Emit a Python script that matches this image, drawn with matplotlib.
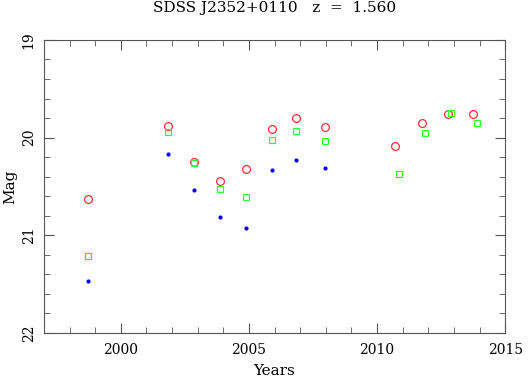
import matplotlib
matplotlib.use("Agg")
import matplotlib.pyplot as plt
from matplotlib.ticker import MultipleLocator

# light curve of SDSS J2352+0110
red_years = [1998.72, 2001.86, 2002.86, 2003.88, 2004.90, 2005.90, 2006.85, 2007.95,
             2010.70, 2011.74, 2012.75, 2013.76]
red_mag = [20.63, 19.88, 20.25, 20.44, 20.32, 19.91, 19.80, 19.89,
           20.09, 19.85, 19.76, 19.76]

green_years = [1998.72, 2001.86, 2002.86, 2003.88, 2004.90, 2005.90, 2006.85, 2007.95,
               2010.86, 2011.88, 2012.89, 2013.90]
green_mag = [21.21, 19.94, 20.26, 20.53, 20.61, 20.02, 19.93, 20.03,
             20.37, 19.95, 19.75, 19.85]

blue_years = [1998.72, 2001.86, 2002.86, 2003.88, 2004.90, 2005.90, 2006.85, 2007.95]
blue_mag = [21.47, 20.17, 20.54, 20.81, 20.93, 20.33, 20.23, 20.31]

plt.rcParams["font.family"] = ["DejaVu Serif"]

fig = plt.figure(figsize=(5.29, 3.84), dpi=100)
ax = fig.add_axes([0.083, 0.133, 0.872, 0.763])

ax.plot(red_years, red_mag, "o", mfc="none", mec="#ff3030", ms=5.6, mew=0.9)
ax.plot(green_years, green_mag, "s", mfc="none", mec="#30ff30", ms=5.0, mew=0.9)
ax.plot(blue_years, blue_mag, "o", color="#0000ff", ms=3.0, mew=0)

ax.set_xlim(1997, 2015)
ax.set_ylim(22, 19)
ax.xaxis.set_major_locator(MultipleLocator(5))
ax.xaxis.set_minor_locator(MultipleLocator(1))
ax.yaxis.set_major_locator(MultipleLocator(1))
ax.yaxis.set_minor_locator(MultipleLocator(0.2))
ax.tick_params(which="both", direction="in", top=True, right=True,
               color="#555555", labelsize=10)
ax.tick_params(which="major", length=7)
ax.tick_params(which="minor", length=4)
ax.tick_params(axis="x", pad=7)
ax.tick_params(axis="y", pad=6)
for lab in ax.get_yticklabels():
    lab.set_rotation(90)
    lab.set_va("center")
for s in ax.spines.values():
    s.set_color("#555555")

ax.set_xlabel("Years", fontsize=11, labelpad=5)
ax.set_ylabel("Mag", fontsize=11, labelpad=3)
ax.set_title("SDSS J2352+0110   z  =  1.560", fontsize=11, pad=20)

fig.savefig("out.png", dpi=100)
